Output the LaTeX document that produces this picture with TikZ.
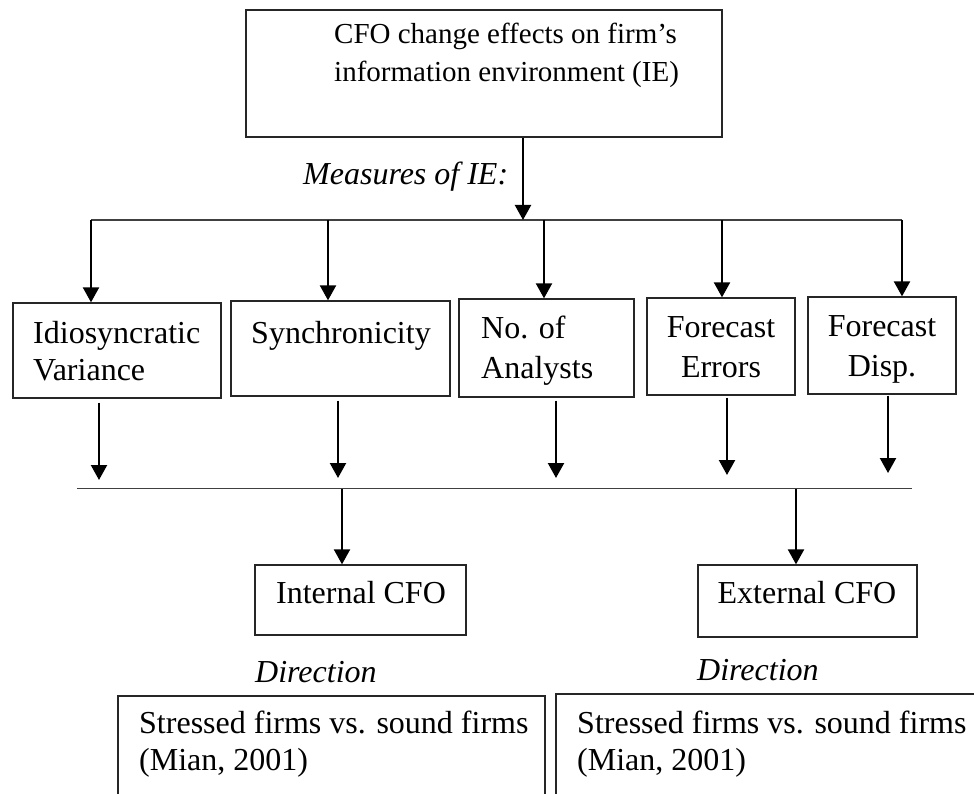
\documentclass[tikz,border=0pt]{standalone}
\usepackage{fontspec}
\setmainfont{Liberation Serif}
\usetikzlibrary{arrows.meta}
\begin{document}
\begin{tikzpicture}[x=1pt,y=-1pt,
  box/.style={draw=black!85, line width=1.3pt, inner sep=0pt, rectangle},
  arr/.style={line width=2.2pt, -{Triangle[width=16pt,length=15pt]}},
  hline/.style={line width=1.3pt, draw=black!75},
  txt/.style={inner sep=0pt, font=\fontsize{32}{37}\selectfont},
  toptxt/.style={inner sep=0pt, font=\fontsize{29}{34}\selectfont},
  ittxt/.style={inner sep=0pt, font=\fontsize{32}{37}\selectfont\itshape},
]
\clip (0,0) rectangle (974,794);

% top box
\node[box, minimum width=476pt, minimum height=127pt] (top) at (484,73.5) {};
\node[toptxt, anchor=base west] (toptA) at (334,44) {CFO change effects on firm’s};
\node[toptxt, anchor=base west] (toptB) at (334,82) {information environment (IE)};
\node[ittxt, anchor=base west] (meas) at (303,185) {Measures of IE:};

% upper distribution line
\coordinate (t1) at (523,220);
\coordinate (hl) at (91,220);
\coordinate (h2) at (328,220);
\coordinate (h3) at (544,220);
\coordinate (h4) at (722,220);
\coordinate (hr) at (902,220);
\draw[hline] (hl) -- (hr);
\draw[arr] (top.south -| t1) -- (t1);

% measure boxes
\node[box, minimum width=208pt, minimum height=95pt] (idio) at (117,350.5) {};
\node[box, minimum width=219pt, minimum height=95pt] (sync) at (340.5,348.5) {};
\node[box, minimum width=175pt, minimum height=98pt] (nana) at (546.5,348) {};
\node[box, minimum width=148pt, minimum height=97pt] (ferr) at (721,346.5) {};
\node[box, minimum width=148pt, minimum height=97pt] (fdis) at (882,345.5) {};

\node[txt, anchor=base west] (idioA) at (33,343) {Idiosyncratic};
\node[txt, anchor=base west] (idioB) at (33,380) {Variance};
\node[txt, anchor=base] (syncA) at (341,343) {Synchronicity};
\node[txt, anchor=base west] (nanaA) at (481,338) {No. of};
\node[txt, anchor=base west] (nanaB) at (481,378) {Analysts};
\node[txt, anchor=base] (ferrA) at (721,337) {Forecast};
\node[txt, anchor=base] (ferrB) at (721,377) {Errors};
\node[txt, anchor=base] (fdisA) at (882,336) {Forecast};
\node[txt, anchor=base] (fdisB) at (882,376) {Disp.};

\draw[arr] (hl) -- (idio.north -| hl);
\draw[arr] (h2) -- (sync.north -| h2);
\draw[arr] (h3) -- (nana.north -| h3);
\draw[arr] (h4) -- (ferr.north -| h4);
\draw[arr] (hr) -- (fdis.north -| hr);

% arrows to lower line
\coordinate (a1) at (99,480);
\coordinate (a2) at (338,478);
\coordinate (a3) at (556,478);
\coordinate (a4) at (727,475);
\coordinate (a5) at (888,473);
\draw[arr, shorten <=4pt] (idio.south -| a1) -- (a1);
\draw[arr, shorten <=4pt] (sync.south -| a2) -- (a2);
\draw[arr, shorten <=3pt] (nana.south -| a3) -- (a3);
\draw[arr, shorten <=2pt] (ferr.south -| a4) -- (a4);
\draw[arr, shorten <=1pt] (fdis.south -| a5) -- (a5);

% lower line
\coordinate (bl) at (77,488.5);
\coordinate (br) at (912,488.5);
\coordinate (d1) at (342,488.5);
\coordinate (d2) at (796,488.5);
\draw[hline] (bl) -- (br);

% CFO boxes
\node[box, minimum width=211pt, minimum height=70pt] (int) at (360.5,600) {};
\node[box, minimum width=219pt, minimum height=72pt] (ext) at (807.5,601) {};
\node[txt, anchor=base] (intA) at (361,603) {Internal CFO};
\node[txt, anchor=base] (extA) at (807,603) {External CFO};
\draw[arr] (d1) -- (int.north -| d1);
\draw[arr] (d2) -- (ext.north -| d2);

\node[ittxt, anchor=base west] (dirL) at (255,682) {Direction};
\node[ittxt, anchor=base west] (dirR) at (697,680) {Direction};

% bottom boxes (cut by the lower edge)
\node[box, minimum width=427pt, minimum height=160pt] (lbox) at (331.5,776) {};
\node[box, minimum width=444pt, minimum height=160pt] (rbox) at (778,774) {};
\node[txt, anchor=base west] (lboxA) at (139,733) {Stressed firms vs. sound firms};
\node[txt, anchor=base west] (lboxB) at (139,770) {(Mian, 2001)};
\node[txt, anchor=base west] (rboxA) at (577,733) {Stressed firms vs. sound firms};
\node[txt, anchor=base west] (rboxB) at (577,770) {(Mian, 2001)};
\end{tikzpicture}
\end{document}
